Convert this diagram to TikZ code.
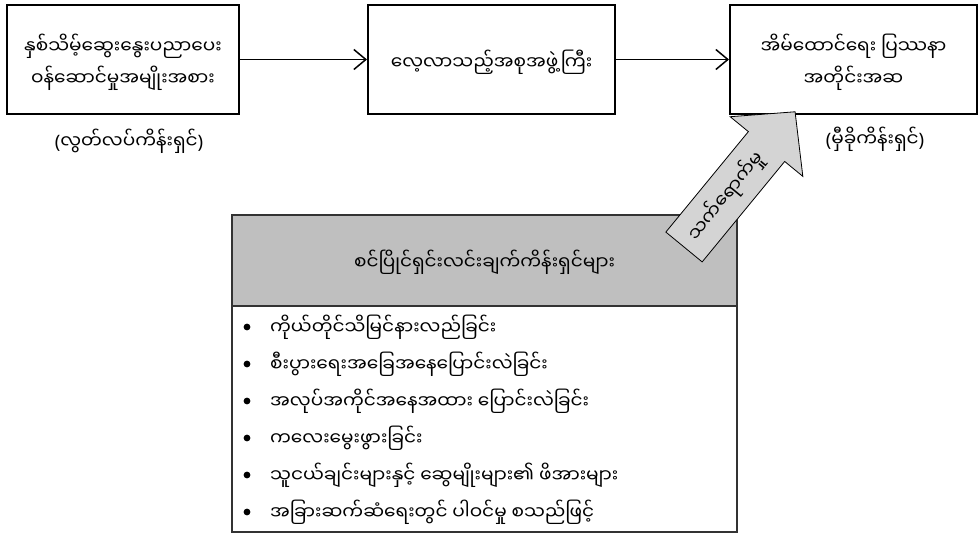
\documentclass[tikz,border=0pt]{standalone}
\usepackage{fontspec}
\newfontfamily\mmfont[Script=Myanmar]{Noto Sans Myanmar UI}
\newfontfamily\latinfont{Noto Sans}
\usetikzlibrary{arrows.meta}

\tikzset{
  blockbox/.style={draw=black, line width=2pt, minimum width=232pt, minimum height=109pt,
    align=center, text depth=0pt, font=\mmfont\fontsize{18.5}{32}\selectfont},
  varlabel/.style={font=\mmfont\fontsize{18.5}{22}\selectfont},
  flow/.style={line width=1.5pt, -{Straight Barb[length=12pt,width=20pt]}},
  listitem/.style={anchor=west, inner sep=0pt, font=\mmfont\fontsize{18.5}{22}\selectfont},
}
\newcommand{\lp}{{\latinfont(}}
\newcommand{\rp}{{\latinfont)}}

\begin{document}
\begin{tikzpicture}[x=1pt,y=-1pt]
\useasboundingbox (0,0) rectangle (979,534);

%boxes in the top row
\node[blockbox] (counsel) at (123,59.5) {နှစ်သိမ့်ဆွေးနွေးပညာပေး\\ဝန်ဆောင်မှုအမျိုးအစား};
\node[blockbox, minimum width=247pt] (group) at (491.5,59.5) {လေ့လာသည့်အစုအဖွဲ့ကြီး};
\node[blockbox, minimum width=247pt] (problem) at (853.5,59.5) {အိမ်ထောင်ရေး ပြဿနာ\\အတိုင်းအဆ};
\draw[flow] (counsel) -- (group);
\draw[flow] (group) -- (problem);

%kind of variable
\node[varlabel] (indep) at (129,141) {\lp လွတ်လပ်ကိန်းရှင်\rp};
\node[varlabel] (dep) at (875,139) {\lp မှီခိုကိန်းရှင်\rp};

%box of other variables
\fill[black!25] (232,215) rectangle (737,306);
\node[varlabel] (others) at (484.5,262) {စင်ပြိုင်ရှင်းလင်းချက်ကိန်းရှင်များ};
\draw[line width=2pt, black!80] (232,306) -- (737,306);
\draw[line width=1.5pt, black!80] (232,215) rectangle (737,532);
\foreach \txt [count=\i] in {ကိုယ်တိုင်သိမြင်နားလည်ခြင်း,
    စီးပွားရေးအခြေအနေပြောင်းလဲခြင်း,
    အလုပ်အကိုင်အနေအထား ပြောင်းလဲခြင်း,
    ကလေးမွေးဖွားခြင်း,
    သူငယ်ချင်းများနှင့် ဆွေမျိုးများ၏ ဖိအားများ,
    အခြားဆက်ဆံရေးတွင် ပါဝင်မှု စသည်ဖြင့်}{
  \fill (247,290+37*\i) circle (3.4);
  \node[listitem] (item\i) at (270,290+37*\i) {\txt};
}

%big arrow
\begin{scope}[shift={(684,247)}, rotate=50.6]
\draw[fill=black!17, line width=0.8pt] (0,-23.5) -- (130,-23.5) -- (130,-47) -- (175,0)
  -- (130,47) -- (130,23.5) -- (0,23.5) -- cycle;
\node[varlabel, rotate=50.6] (effect) at (66,0) {သက်ရောက်မှု};
\end{scope}
\end{tikzpicture}
\end{document}
